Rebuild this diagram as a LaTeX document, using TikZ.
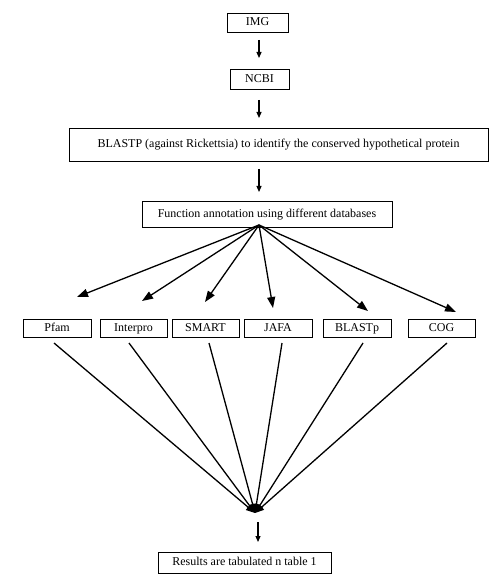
\documentclass[tikz,border=0pt]{standalone}
\usepackage{fontspec}
\setmainfont{Liberation Serif}
\usetikzlibrary{arrows.meta}
\tikzset{
  box/.style={draw, line width=0.8pt, inner sep=0pt, text height=0.66em, text depth=0pt,
    font=\fontsize{12}{14}\selectfont},
  stepline/.style={line width=1.2pt, -{Triangle[length=6pt,width=5pt]}},
  fanline/.style={line width=1.3pt, -{Triangle[length=11pt,width=8pt]}},
  joinline/.style={line width=1.3pt, -{Triangle[length=9pt,width=7pt]}}
}

\begin{document}
\begin{tikzpicture}[x=1pt,y=-1pt]
  \useasboundingbox (0,0) rectangle (500,585);

  % main chain
  \node[box, minimum width=61pt, minimum height=19pt] (img)  at (257.5,22.5) {IMG};
  \node[box, minimum width=59pt, minimum height=20pt] (ncbi) at (259.5,79)   {NCBI};
  \node[box, minimum width=419pt, minimum height=33pt] (blast) at (278.5,144.5)
    {BLASTP (against Rickettsia) to identify the conserved hypothetical protein};
  \node[box, minimum width=250pt, minimum height=26pt] (func) at (267,214)
    {Function annotation using different databases};

  \coordinate (a1) at (259,40);  \coordinate (b1) at (259,58);
  \coordinate (a2) at (259,100); \coordinate (b2) at (259,118);
  \coordinate (a3) at (259,169); \coordinate (b3) at (259,192);
  \draw[stepline] (a1) -- (b1);
  \draw[stepline] (a2) -- (b2);
  \draw[stepline] (a3) -- (b3);

  % databases
  \node[box, minimum width=68pt, minimum height=18pt] (pfam)     at (57,328)  {Pfam};
  \node[box, minimum width=67pt, minimum height=18pt] (interpro) at (133.5,328) {Interpro};
  \node[box, minimum width=67pt, minimum height=18pt] (smart)    at (205.5,328) {SMART};
  \node[box, minimum width=68pt, minimum height=18pt] (jafa)     at (278,328) {JAFA};
  \node[box, minimum width=68pt, minimum height=18pt] (blastp)   at (357,328) {BLASTp};
  \node[box, minimum width=67pt, minimum height=18pt] (cog)      at (441.5,328) {COG};

  \coordinate (fan) at (259,225);
  \coordinate (tpfam) at (77,297);
  \coordinate (tinterpro) at (142,301);
  \coordinate (tsmart) at (205,302);
  \coordinate (tjafa) at (273,308);
  \coordinate (tblastp) at (368,311);
  \coordinate (tcog) at (456,312);
  \foreach \t in {tpfam,tinterpro,tsmart,tjafa,tblastp,tcog}
    \draw[fanline] (fan) -- (\t);

  % results
  \coordinate (join) at (255,513);
  \coordinate (spfam) at (54,343);
  \coordinate (sinterpro) at (129,343);
  \coordinate (ssmart) at (209,343);
  \coordinate (sjafa) at (282,343);
  \coordinate (sblastp) at (363,343);
  \coordinate (scog) at (447,343);
  \foreach \s in {spfam,sinterpro,ssmart,sjafa,sblastp,scog}
    \draw[joinline] (\s) -- (join);

  \coordinate (a4) at (258,522); \coordinate (b4) at (258,542);
  \draw[stepline] (a4) -- (b4);
  \node[box, minimum width=173pt, minimum height=21pt] (result) at (244.5,562.5)
    {Results are tabulated n table 1};
\end{tikzpicture}
\end{document}
